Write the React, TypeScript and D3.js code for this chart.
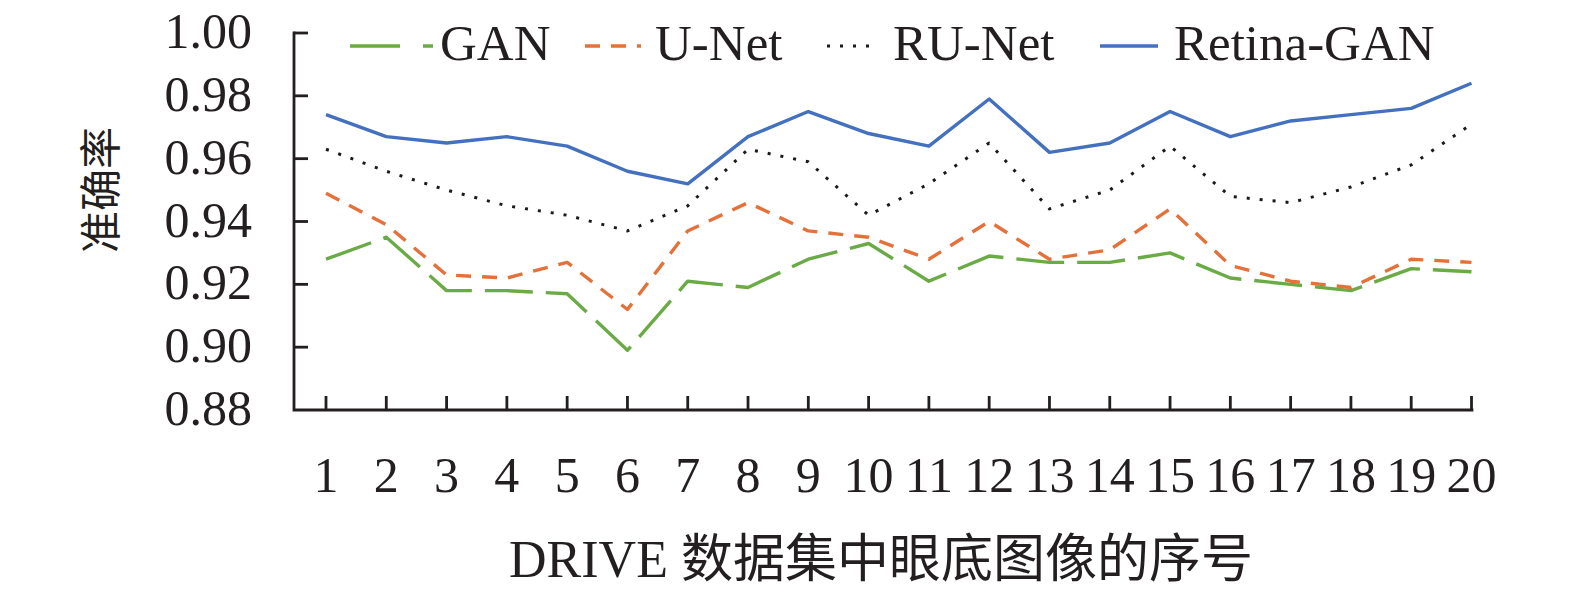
import React, { useEffect, useRef } from 'react';
import * as d3 from 'd3';

const labels = ['1', '2', '3', '4', '5', '6', '7', '8', '9', '10', '11', '12', '13', '14', '15', '16', '17', '18', '19', '20'];
const gan = [0.928, 0.935, 0.918, 0.918, 0.917, 0.899, 0.921, 0.919, 0.928, 0.933, 0.921, 0.929, 0.927, 0.927, 0.930, 0.922, 0.920, 0.918, 0.925, 0.924];
const unet = [0.949, 0.939, 0.923, 0.922, 0.927, 0.912, 0.937, 0.946, 0.937, 0.935, 0.928, 0.940, 0.928, 0.931, 0.944, 0.926, 0.921, 0.919, 0.928, 0.927];
const runet = [0.963, 0.956, 0.950, 0.945, 0.942, 0.937, 0.945, 0.963, 0.959, 0.942, 0.952, 0.965, 0.944, 0.950, 0.964, 0.948, 0.946, 0.951, 0.958, 0.971];
const retina = [0.974, 0.967, 0.965, 0.967, 0.964, 0.956, 0.952, 0.967, 0.975, 0.968, 0.964, 0.979, 0.962, 0.965, 0.975, 0.967, 0.972, 0.974, 0.976, 0.984];
const yTicks = [0.88, 0.90, 0.92, 0.94, 0.96, 0.98, 1.00];
const seriesNames = ['GAN', 'U-Net', 'RU-Net', 'Retina-GAN'];

const W = 1575, H = 600;
const latin = '"Liberation Serif", "Times New Roman", serif';
const cjk = '"Liberation Serif", "Noto Sans CJK SC", serif';

// style per series, same order as seriesNames
const styles = [
  { color: '#6aab45', dash: '48,13', width: 3.4 },
  { color: '#e5713a', dash: '15,11', width: 3.4 },
  { color: '#1a1a1a', dash: '3,10', width: 3 },
  { color: '#4470c0', dash: null as string | null, width: 3.4 },
];
// legend sample placement: line start, line end, text x
const legendPos = [
  { x0: 350, x1: 433, tx: 440, dash: '50,23,10,100' },
  { x0: 585, x1: 641, tx: 655, dash: '15,11' },
  { x0: 827, x1: 877, tx: 893, dash: '3,10' },
  { x0: 1100, x1: 1158, tx: 1174, dash: null as string | null },
];

export default function App() {
  const ref = useRef<SVGSVGElement>(null);

  useEffect(() => {
    if (!ref.current) return;
    const svg = d3.select(ref.current);
    svg.selectAll('*').remove();

    const axisX = 294, top = 33, bottom = 410, right = 1472;
    const x = d3.scaleLinear().domain([1, 20]).range([326, 1471.5]);
    const y = d3.scaleLinear().domain([0.88, 1.0]).range([bottom, top]);
    const all = [gan, unet, runet, retina];

    // axes
    const ax = svg.append('g').attr('stroke', '#231f20').attr('stroke-width', 2.8).attr('fill', 'none');
    ax.append('path').attr('d', `M${axisX},${top}V${bottom}H${right}`).attr('stroke-linecap', 'square');
    yTicks.slice(1).forEach(t => ax.append('line').attr('x1', axisX).attr('x2', axisX + 14).attr('y1', y(t)).attr('y2', y(t)));
    labels.forEach((_, i) => ax.append('line').attr('x1', x(i + 1)).attr('x2', x(i + 1)).attr('y1', bottom).attr('y2', bottom - 14));

    svg.append('g').selectAll('text').data(yTicks).enter().append('text')
      .attr('x', 252).attr('y', d => y(d) + 15).attr('text-anchor', 'end')
      .attr('font-family', latin).attr('font-size', 50).attr('fill', '#231f20')
      .text(d => d.toFixed(2));

    svg.append('g').selectAll('text').data(labels).enter().append('text')
      .attr('x', (_, i) => x(i + 1)).attr('y', 492).attr('text-anchor', 'middle')
      .attr('font-family', latin).attr('font-size', 50).attr('fill', '#231f20')
      .text(d => d);

    svg.append('text').attr('x', 881).attr('y', 577).attr('text-anchor', 'middle')
      .attr('font-family', cjk).attr('font-size', 52).attr('fill', '#231f20')
      .text('DRIVE 数据集中眼底图像的序号');

    svg.append('text').attr('transform', 'translate(116,190) rotate(-90)').attr('text-anchor', 'middle')
      .attr('font-family', '"Noto Sans CJK SC", sans-serif').attr('font-size', 42).attr('fill', '#231f20')
      .text('准确率');

    // lines
    const line = d3.line<number>().x((_, i) => x(i + 1)).y(d => y(d));
    all.forEach((vals, k) => {
      const s = styles[k];
      const p = svg.append('path').datum(vals).attr('d', line as any).attr('fill', 'none')
        .attr('stroke', s.color).attr('stroke-width', s.width).attr('stroke-linejoin', 'round');
      if (s.dash) p.attr('stroke-dasharray', s.dash);
    });

    // legend
    const lg = svg.append('g');
    seriesNames.forEach((name, k) => {
      const s = styles[k], lp = legendPos[k];
      const l = lg.append('line').attr('x1', lp.x0).attr('x2', lp.x1).attr('y1', 46).attr('y2', 46)
        .attr('stroke', s.color).attr('stroke-width', s.width);
      if (lp.dash) l.attr('stroke-dasharray', lp.dash);
      lg.append('text').attr('x', lp.tx).attr('y', 60).attr('font-family', latin).attr('font-size', 51)
        .attr('fill', '#231f20').text(name);
    });
  }, []);

  return (
    <svg ref={ref} width={W} height={H} viewBox={`0 0 ${W} ${H}`}
      style={{ position: 'absolute', left: 0, top: 0, background: '#fff' }} />
  );
}
